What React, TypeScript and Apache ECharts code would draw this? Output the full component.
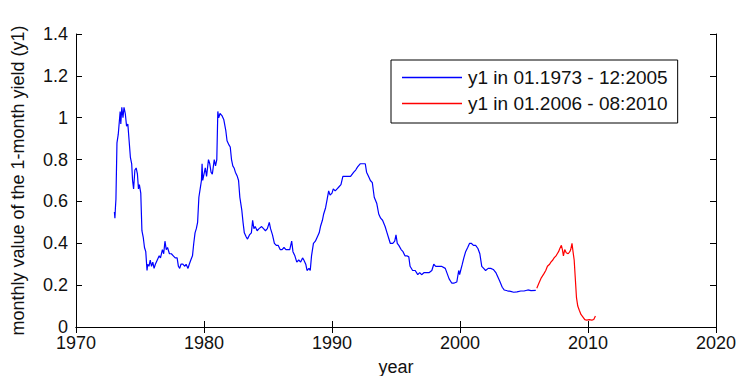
import React, { useEffect, useRef } from "react";
import * as echarts from "echarts";

// Monthly 1-month yield readings (decimal year, value)
const blueYears = [
  1973.0, 1973.04, 1973.08, 1973.12, 1973.2, 1973.3, 1973.45, 1973.5, 1973.58, 1973.67, 1973.75, 1973.85, 1973.95,
  1974.05, 1974.15, 1974.25, 1974.35, 1974.42, 1974.5, 1974.6, 1974.7, 1974.8, 1974.88, 1974.95,
  1975.06, 1975.15, 1975.25, 1975.35, 1975.45, 1975.55, 1975.6, 1975.7, 1975.8, 1975.9,
  1976.0, 1976.1, 1976.2, 1976.35, 1976.5, 1976.6, 1976.75, 1976.85, 1976.95,
  1977.05, 1977.15, 1977.3, 1977.45, 1977.6, 1977.75, 1977.9,
  1978.0, 1978.1, 1978.2, 1978.35, 1978.5, 1978.6, 1978.75, 1978.85, 1978.97,
  1979.1, 1979.2, 1979.3, 1979.4, 1979.5, 1979.6, 1979.7, 1979.8, 1979.85, 1979.9,
  1980.0, 1980.1, 1980.2, 1980.35, 1980.45, 1980.55, 1980.65, 1980.8, 1980.9,
  1981.0, 1981.08, 1981.15, 1981.25, 1981.4, 1981.55, 1981.7, 1981.8, 1981.95,
  1982.05, 1982.15, 1982.25, 1982.35, 1982.45, 1982.6, 1982.7, 1982.8, 1982.95,
  1983.05, 1983.15, 1983.3, 1983.4, 1983.55, 1983.7, 1983.8, 1983.9,
  1984.0, 1984.15, 1984.3, 1984.5, 1984.65, 1984.8, 1984.95,
  1985.1, 1985.2, 1985.35, 1985.5, 1985.65, 1985.8, 1985.95,
  1986.1, 1986.25, 1986.4, 1986.55, 1986.7, 1986.85, 1986.95,
  1987.1, 1987.25, 1987.4, 1987.55, 1987.7, 1987.8, 1987.95,
  1988.05, 1988.2, 1988.3, 1988.4, 1988.55, 1988.7, 1988.85,
  1989.0, 1989.1, 1989.25, 1989.35, 1989.5, 1989.62, 1989.74, 1989.85,
  1990.0, 1990.1, 1990.25, 1990.4, 1990.55, 1990.7, 1990.85,
  1991.0, 1991.2, 1991.45, 1991.7, 1991.85,
  1992.0, 1992.2, 1992.4, 1992.6, 1992.7, 1992.85,
  1993.0, 1993.15, 1993.3, 1993.5, 1993.65, 1993.8, 1993.95,
  1994.15, 1994.3, 1994.4, 1994.55, 1994.75, 1994.9,
  1995.0, 1995.1, 1995.22, 1995.4, 1995.55, 1995.7, 1995.85,
  1996.0, 1996.1, 1996.3, 1996.5, 1996.7, 1996.85,
  1997.0, 1997.2, 1997.4, 1997.6, 1997.8, 1997.95,
  1998.1, 1998.3, 1998.55, 1998.85,
  1999.0, 1999.15, 1999.35, 1999.55, 1999.75, 1999.9, 1999.97,
  2000.05, 2000.18, 2000.3, 2000.44, 2000.6, 2000.75, 2000.88,
  2001.05, 2001.22, 2001.4, 2001.55, 2001.7, 2001.85,
  2002.0, 2002.2, 2002.4, 2002.6, 2002.8, 2002.95,
  2003.1, 2003.3, 2003.45, 2003.7, 2003.95,
  2004.2, 2004.45, 2004.75, 2005.0, 2005.3, 2005.55, 2005.92,
];
const blueValues = [
  0.55, 0.52, 0.57, 0.61, 0.88, 0.92, 1.03, 0.97, 1.05, 1.0, 1.05, 1.02, 0.96,
  0.97, 0.89, 0.81, 0.78, 0.7, 0.66, 0.75, 0.76, 0.73, 0.66, 0.68,
  0.64, 0.46, 0.43, 0.38, 0.36, 0.27, 0.3, 0.29, 0.32, 0.29,
  0.31, 0.28, 0.3, 0.32, 0.34, 0.33, 0.37, 0.35, 0.41,
  0.37, 0.38, 0.35, 0.35, 0.34, 0.33, 0.33,
  0.29, 0.28, 0.3, 0.3, 0.29, 0.3, 0.28, 0.3, 0.32,
  0.34, 0.4, 0.45, 0.47, 0.5, 0.62, 0.66, 0.7, 0.78, 0.7,
  0.73, 0.76, 0.72, 0.8, 0.78, 0.74, 0.73, 0.8, 0.77,
  0.8, 1.03, 1.0, 1.02, 1.01, 0.99, 0.94, 0.89, 0.87,
  0.86, 0.8, 0.77, 0.76, 0.74, 0.72, 0.7, 0.62, 0.56,
  0.5, 0.45, 0.43, 0.42, 0.44, 0.45, 0.51, 0.47,
  0.48, 0.46, 0.47, 0.48, 0.47, 0.46, 0.47,
  0.5, 0.47, 0.44, 0.4, 0.39, 0.39, 0.37,
  0.37, 0.38, 0.37, 0.37, 0.37, 0.41, 0.36,
  0.34, 0.31, 0.32, 0.31, 0.33, 0.32, 0.3,
  0.27, 0.28, 0.27, 0.34, 0.4, 0.41, 0.43,
  0.45, 0.48, 0.51, 0.54, 0.57, 0.61, 0.65, 0.63,
  0.64, 0.66, 0.65, 0.66, 0.67, 0.68, 0.72,
  0.72, 0.72, 0.72, 0.74, 0.75,
  0.765, 0.78, 0.78, 0.78, 0.74, 0.72,
  0.7, 0.69, 0.62, 0.59, 0.54, 0.52, 0.51,
  0.48, 0.45, 0.43, 0.4, 0.4, 0.41,
  0.44, 0.4, 0.39, 0.37, 0.36, 0.34, 0.34,
  0.335, 0.29, 0.27, 0.27, 0.25, 0.26,
  0.25, 0.26, 0.26, 0.26, 0.27, 0.3,
  0.29, 0.29, 0.29, 0.28,
  0.255, 0.23, 0.21, 0.21, 0.215, 0.27, 0.25,
  0.27, 0.3, 0.33, 0.36, 0.38, 0.4, 0.4,
  0.39, 0.39, 0.375, 0.35, 0.29, 0.28,
  0.27, 0.28, 0.28, 0.275, 0.26, 0.24,
  0.22, 0.19, 0.177, 0.173, 0.17,
  0.166, 0.168, 0.172, 0.172, 0.177, 0.174, 0.175,
];

const redYears = [
  2006.0, 2006.17, 2006.35, 2006.56, 2006.7, 2006.83, 2007.0, 2007.1, 2007.25, 2007.35, 2007.5, 2007.6,
  2007.7, 2007.8, 2007.92, 2008.0, 2008.08, 2008.18, 2008.3, 2008.45, 2008.58, 2008.65, 2008.75, 2008.83,
  2008.92, 2009.0, 2009.1, 2009.2, 2009.32, 2009.45, 2009.58, 2009.75, 2009.9, 2010.1, 2010.3, 2010.45, 2010.58,
];
const redValues = [
  0.185, 0.21, 0.235, 0.255, 0.27, 0.29, 0.3, 0.31, 0.32, 0.33, 0.34, 0.35,
  0.36, 0.375, 0.39, 0.37, 0.34, 0.37, 0.355, 0.35, 0.36, 0.37, 0.4, 0.36,
  0.32, 0.24, 0.14, 0.1, 0.08, 0.06, 0.05, 0.035, 0.033, 0.035, 0.033, 0.036, 0.053,
];

const seriesNames = ["y1 in 01.1973 - 12:2005", "y1 in 01.2006 - 08:2010"];
const xName = "year";
const yName = "monthly value of the 1-month yield (y1)";

const FONT = "'Liberation Sans', Arial, Helvetica, sans-serif";
const TEXT = "#111";

export default function App() {
  const ref = useRef<HTMLDivElement>(null);

  useEffect(() => {
    if (!ref.current) return;
    const chart = echarts.init(ref.current, null, { renderer: "svg" });
    const zip = (xs: number[], ys: number[]) => xs.map((x, i) => [x, ys[i]]);

    const tickInside = { show: true, inside: true, length: 6, lineStyle: { color: "#000", width: 1 } };

    chart.setOption({
      animation: false,
      backgroundColor: "#fff",
      textStyle: { fontFamily: FONT },
      grid: { left: 76, right: 20, top: 34, bottom: 49, containLabel: false, outerBoundsMode: "none" },
      legend: {
        orient: "vertical",
        left: 391,
        top: 60,
        backgroundColor: "#fff",
        borderColor: "#000",
        borderWidth: 1,
        padding: [8, 10, 10, 11],
        itemGap: 7,
        itemWidth: 60,
        itemHeight: 1.5,
        icon: "rect",
        textStyle: { fontSize: 19, color: TEXT, fontFamily: FONT, padding: [0, 0, 0, 1] },
        data: seriesNames,
      },
      xAxis: [
        {
          type: "value",
          min: 1970,
          max: 2020,
          interval: 10,
          name: xName,
          nameLocation: "middle",
          nameGap: 31,
          nameTextStyle: { fontSize: 18, color: TEXT, fontFamily: FONT },
          axisLine: { show: true, lineStyle: { color: "#000", width: 1 } },
          axisTick: tickInside,
          axisLabel: {
            fontSize: 18,
            lineHeight: 16,
            color: TEXT,
            margin: 8,
            fontFamily: FONT,
            formatter: (v: number) => String(v),
          },
          splitLine: { show: false },
        },
        {
          type: "value",
          position: "top",
          min: 1970,
          max: 2020,
          interval: 10,
          axisLine: { show: true, lineStyle: { color: "#000", width: 1 } },
          axisTick: tickInside,
          axisLabel: { show: false },
          splitLine: { show: false },
        },
      ],
      yAxis: [
        {
          type: "value",
          min: 0,
          max: 1.4,
          interval: 0.2,
          name: yName,
          nameLocation: "middle",
          nameGap: 49,
          nameTextStyle: { fontSize: 18, color: TEXT, fontFamily: FONT },
          axisLine: { show: true, lineStyle: { color: "#000", width: 1 } },
          axisTick: tickInside,
          axisLabel: { fontSize: 18, lineHeight: 14, color: TEXT, margin: 8, fontFamily: FONT },
          splitLine: { show: false },
        },
        {
          type: "value",
          position: "right",
          min: 0,
          max: 1.4,
          interval: 0.2,
          axisLine: { show: true, lineStyle: { color: "#000", width: 1 } },
          axisTick: tickInside,
          axisLabel: { show: false },
          splitLine: { show: false },
        },
      ],
      series: [
        {
          name: seriesNames[0],
          type: "line",
          xAxisIndex: 0,
          yAxisIndex: 0,
          showSymbol: false,
          symbol: "none",
          lineStyle: { color: "#0000ff", width: 1.2 },
          itemStyle: { color: "#0000ff" },
          data: zip(blueYears, blueValues),
        },
        {
          name: seriesNames[1],
          type: "line",
          xAxisIndex: 0,
          yAxisIndex: 0,
          showSymbol: false,
          symbol: "none",
          lineStyle: { color: "#ff0000", width: 1.2 },
          itemStyle: { color: "#ff0000" },
          data: zip(redYears, redValues),
        },
      ],
    });

    return () => chart.dispose();
  }, []);

  return <div ref={ref} style={{ width: 736, height: 376, position: "absolute", left: 0, top: 0 }} />;
}
